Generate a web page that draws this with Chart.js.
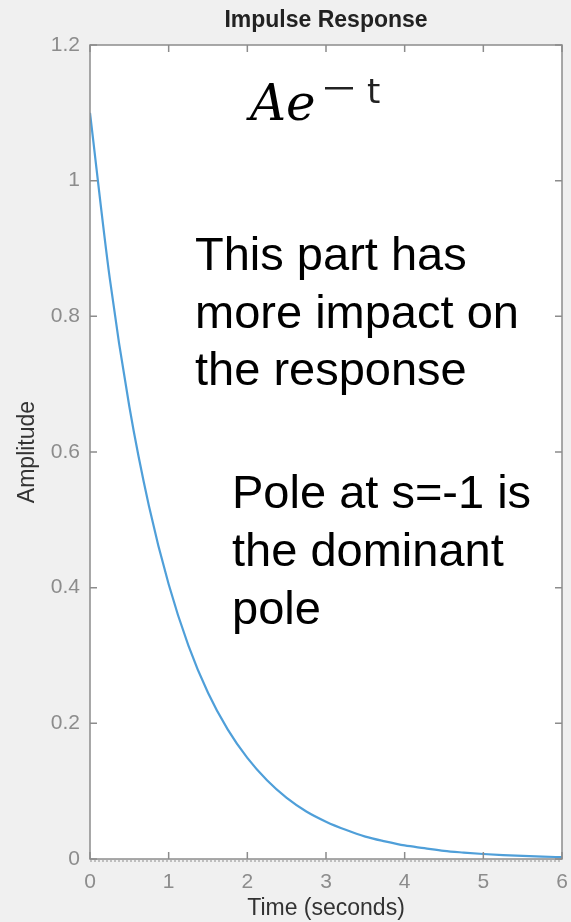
<!DOCTYPE html>
<html>
<head>
<meta charset="utf-8">
<script src="https://cdn.jsdelivr.net/npm/chart.js@4.4.1/dist/chart.umd.min.js"></script>
<style>
  html, body { margin: 0; padding: 0; background: #f0f0f0; }
  #wrap { position: relative; width: 571px; height: 922px; }
</style>
</head>
<body>
<div id="wrap"><canvas id="impulseChart"></canvas></div>
<script>
// impulse response samples (time in seconds, amplitude)
const timeValues = [0, 0.25, 0.5, 0.75, 1, 1.25, 1.5, 1.75, 2, 2.25, 2.5, 2.75, 3,
    3.25, 3.5, 3.75, 4, 4.25, 4.5, 4.75, 5, 5.25, 5.5, 5.75, 6];
const amplitudeValues = [1.10, 0.857, 0.667, 0.520, 0.405, 0.315, 0.245, 0.191, 0.149,
    0.116, 0.090, 0.070, 0.055, 0.043, 0.033, 0.026, 0.020, 0.016, 0.012,
    0.0095, 0.0074, 0.0058, 0.0045, 0.0035, 0.0027];

const xTicks = [0, 1, 2, 3, 4, 5, 6];
const yTicks = [0, 0.2, 0.4, 0.6, 0.8, 1, 1.2];
const yTickLabels = ['0', '0.2', '0.4', '0.6', '0.8', '1', '1.2'];

const textFont = '"Liberation Sans", Arial, sans-serif';
const axisGray = '#8c8c8c';

// white axes background, MATLAB-style box with inward ticks, and the text notes
const matlabAxes = {
    id: 'matlabAxes',
    beforeDatasetsDraw(chart) {
        const { ctx, chartArea: a } = chart;
        ctx.save();
        ctx.fillStyle = '#ffffff';
        ctx.fillRect(a.left, a.top, a.right - a.left, a.bottom - a.top);
        ctx.restore();
    },
    afterDatasetsDraw(chart) {
        const { ctx, chartArea: a, scales } = chart;
        const tick = 7;
        ctx.save();
        ctx.strokeStyle = axisGray;
        ctx.lineWidth = 1.5;
        ctx.strokeRect(a.left, a.top, a.right - a.left, a.bottom - a.top);
        ctx.beginPath();
        xTicks.forEach(v => {
            const px = scales.x.getPixelForValue(v);
            ctx.moveTo(px, a.bottom); ctx.lineTo(px, a.bottom - tick);
            ctx.moveTo(px, a.top); ctx.lineTo(px, a.top + tick);
        });
        yTicks.forEach(v => {
            const py = scales.y.getPixelForValue(v);
            ctx.moveTo(a.left, py); ctx.lineTo(a.left + tick, py);
            ctx.moveTo(a.right, py); ctx.lineTo(a.right - tick, py);
        });
        ctx.stroke();
        // dotted edge under the bottom axis line
        ctx.setLineDash([2, 2]);
        ctx.lineWidth = 1;
        ctx.beginPath();
        ctx.moveTo(a.left, a.bottom + 2);
        ctx.lineTo(a.right, a.bottom + 2);
        ctx.stroke();
        ctx.restore();
    },
    afterDraw(chart) {
        const { ctx } = chart;
        ctx.save();
        ctx.fillStyle = '#000000';
        ctx.textBaseline = 'alphabetic';
        ctx.textAlign = 'left';

        // A e^{-t}
        ctx.font = 'italic 50px "DejaVu Serif", serif';
        ctx.fillText('Ae', 250, 120);
        ctx.fillStyle = '#222222';
        ctx.fillRect(325, 87, 28, 2.5);
        ctx.font = '34px "DejaVu Sans", sans-serif';
        ctx.fillText('t', 367, 103);

        ctx.fillStyle = '#000000';
        ctx.font = '47px ' + textFont;
        ['This part has', 'more impact on', 'the response'].forEach((s, i) => {
            ctx.fillText(s, 195, 270 + i * 57.5);
        });
        ['Pole at s=-1 is', 'the dominant', 'pole'].forEach((s, i) => {
            ctx.fillText(s, 232, 508 + i * 58);
        });
        ctx.restore();
    }
};

new Chart(document.getElementById('impulseChart'), {
    type: 'line',
    data: {
        datasets: [{
            data: timeValues.map((t, i) => ({ x: t, y: amplitudeValues[i] })),
            borderColor: '#4f9fd9',
            borderWidth: 2.2,
            pointRadius: 0,
            cubicInterpolationMode: 'monotone',
            fill: false
        }]
    },
    options: {
        responsive: true,
        maintainAspectRatio: false,
        animation: false,
        layout: { padding: { left: 0, right: 9, top: 0, bottom: 0 } },
        plugins: {
            legend: { display: false },
            tooltip: { enabled: false },
            title: {
                display: true,
                text: 'Impulse Response',
                fullSize: false,
                color: '#222222',
                font: { family: textFont, size: 23, weight: 'bold' },
                padding: { top: 7, bottom: 10.4 }
            }
        },
        scales: {
            x: {
                type: 'linear',
                min: 0,
                max: 6,
                afterFit: s => { s.height = 63; s.paddingLeft = 0; s.paddingRight = 0; },
                afterBuildTicks: s => { s.ticks = xTicks.map(v => ({ value: v })); },
                grid: { display: false, drawTicks: false },
                border: { display: false },
                ticks: {
                    color: axisGray,
                    padding: 11,
                    maxRotation: 0,
                    font: { family: textFont, size: 21 },
                    callback: v => String(v)
                },
                title: {
                    display: true,
                    text: 'Time (seconds)',
                    color: '#333333',
                    font: { family: textFont, size: 23 },
                    padding: { top: 0, bottom: 0 }
                }
            },
            y: {
                min: 0,
                max: 1.2,
                afterFit: s => { s.width = 90; s.paddingTop = 0; s.paddingBottom = 0; },
                afterBuildTicks: s => { s.ticks = yTicks.map(v => ({ value: v })); },
                grid: { display: false, drawTicks: false },
                border: { display: false },
                ticks: {
                    color: axisGray,
                    padding: 10,
                    font: { family: textFont, size: 21 },
                    callback: v => yTickLabels[yTicks.indexOf(v)]
                },
                title: {
                    display: true,
                    text: 'Amplitude',
                    color: '#333333',
                    font: { family: textFont, size: 23 },
                    padding: { top: 14, bottom: 0 }
                }
            }
        }
    },
    plugins: [matlabAxes]
});
</script>
</body>
</html>
